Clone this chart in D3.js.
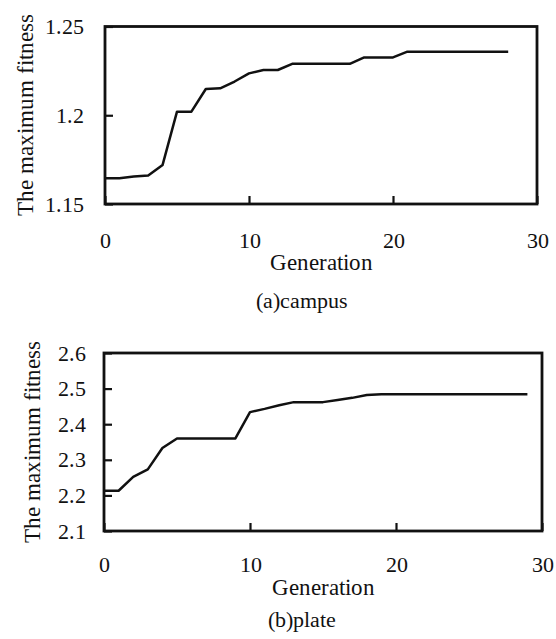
<!DOCTYPE html>
<html lang="en">
<head>
    <meta charset="UTF-8">
    <title>Maximum fitness</title>
    <style>
        @font-face {
            font-family: "PaperSerif";
            src: local("Liberation Serif"), local("LiberationSerif"), local("LiberationSerif-Regular"),
                 local("DejaVu Serif"), local("DejaVuSerif"), local("Times New Roman");
        }
        body { margin: 0; background: #fff; }
    </style>
</head>
<body>
<div id="container"></div>
<script src="https://cdn.jsdelivr.net/npm/d3@7"></script>
<script>
    // (a) campus
    const campusGen = [0, 1, 2, 3, 4, 5, 6, 7, 8, 9, 10, 11, 12, 13, 14, 15, 16, 17, 18, 19, 20, 21, 22, 23, 24, 25, 26, 27, 28]
    const campusFit = [1.1645, 1.1645, 1.1655, 1.166, 1.172, 1.202, 1.202, 1.2148, 1.2152, 1.219, 1.2236, 1.2255, 1.2255,
        1.229, 1.229, 1.229, 1.229, 1.229, 1.2326, 1.2326, 1.2326, 1.2358, 1.2358, 1.2358, 1.2358, 1.2358, 1.2358, 1.2358, 1.2358]
    const campusYTicks = [1.15, 1.2, 1.25]

    // (b) plate
    const plateGen = [0, 1, 2, 3, 4, 5, 6, 7, 8, 9, 10, 11, 12, 13, 14, 15, 16, 17, 18, 19, 20, 21, 22, 23, 24, 25, 26, 27, 28, 29]
    const plateFit = [2.213, 2.213, 2.252, 2.273, 2.333, 2.36, 2.36, 2.36, 2.36, 2.36, 2.434, 2.443, 2.453, 2.462, 2.462,
        2.462, 2.468, 2.474, 2.482, 2.484, 2.484, 2.484, 2.484, 2.484, 2.484, 2.484, 2.484, 2.484, 2.484, 2.484]
    const plateYTicks = [2.1, 2.2, 2.3, 2.4, 2.5, 2.6]

    const xTicks = [0, 10, 20, 30]
    const xLabel = 'Generation'
    const yLabel = 'The maximum fitness'

    const width = 556
    const height = 639
    const tickLen = 8
    const font = 'PaperSerif, "Liberation Serif", "DejaVu Serif", Times, serif'
    const ink = '#111'

    const svg = d3.select('#container').append('svg')
        .attr('width', width)
        .attr('height', height)
        .style('font-family', font)

    function panel(opt) {
        const x = d3.scaleLinear().domain([0, 30]).range([opt.left, opt.right])
        const y = d3.scaleLinear().domain(opt.yDomain).range([opt.bottom, opt.top])
        const g = svg.append('g')

        // ticks point inward, labels stay outside
        const xAxis = g.append('g')
            .attr('transform', `translate(0,${opt.bottom})`)
            .call(d3.axisBottom(x).tickValues(xTicks).tickSize(-tickLen).tickSizeOuter(0).tickPadding(opt.xPad))
        const yAxis = g.append('g')
            .attr('transform', `translate(${opt.left},0)`)
            .call(d3.axisLeft(y).tickValues(opt.yTicks).tickSize(-tickLen).tickSizeOuter(0)
                .tickFormat(d3.format(opt.fmt)).tickPadding(opt.yPad))
        for (const ax of [xAxis, yAxis]) {
            ax.attr('font-family', font).attr('font-size', 22)
            ax.select('.domain').remove()
            ax.selectAll('line').attr('stroke', ink).attr('stroke-width', 2.2)
            ax.selectAll('text').attr('fill', ink)
        }

        g.append('rect')
            .attr('x', opt.left)
            .attr('y', opt.top)
            .attr('width', opt.right - opt.left)
            .attr('height', opt.bottom - opt.top)
            .attr('fill', 'none')
            .attr('stroke', ink)
            .attr('stroke-width', 2.8)

        const line = d3.line().x((d, i) => x(opt.gen[i])).y(d => y(d))
        g.append('path')
            .datum(opt.fit)
            .attr('d', line)
            .attr('fill', 'none')
            .attr('stroke', ink)
            .attr('stroke-width', 2.5)
            .attr('stroke-linejoin', 'round')

        g.append('text')
            .attr('x', (opt.left + opt.right) / 2)
            .attr('y', opt.xLabelY)
            .attr('text-anchor', 'middle')
            .attr('font-family', font)
            .attr('font-size', 23)
            .attr('fill', ink)
            .text(xLabel)

        g.append('text')
            .attr('transform', `translate(${opt.yLabelX},${opt.yLabelCy}) rotate(-90)`)
            .attr('text-anchor', 'middle')
            .attr('font-family', font)
            .attr('font-size', 23)
            .attr('fill', ink)
            .text(yLabel)

        g.append('text')
            .attr('x', opt.capX)
            .attr('y', opt.capY)
            .attr('text-anchor', 'middle')
            .attr('font-family', font)
            .attr('font-size', 22)
            .attr('fill', ink)
            .text(opt.caption)
    }

    panel({
        left: 105, right: 537, top: 26.5, bottom: 204,
        yDomain: [1.15, 1.25], yTicks: campusYTicks, fmt: '~g',
        gen: campusGen, fit: campusFit,
        xPad: 28, yPad: 21,
        xLabelY: 270, yLabelX: 33, yLabelCy: 115,
        caption: '(a)campus', capX: 302, capY: 308
    })

    panel({
        left: 104, right: 542, top: 353, bottom: 531,
        yDomain: [2.1, 2.6], yTicks: plateYTicks, fmt: '.1f',
        gen: plateGen, fit: plateFit,
        xPad: 25, yPad: 18,
        xLabelY: 595, yLabelX: 40, yLabelCy: 442,
        caption: '(b)plate', capX: 302, capY: 627
    })
</script>
</body>
</html>
